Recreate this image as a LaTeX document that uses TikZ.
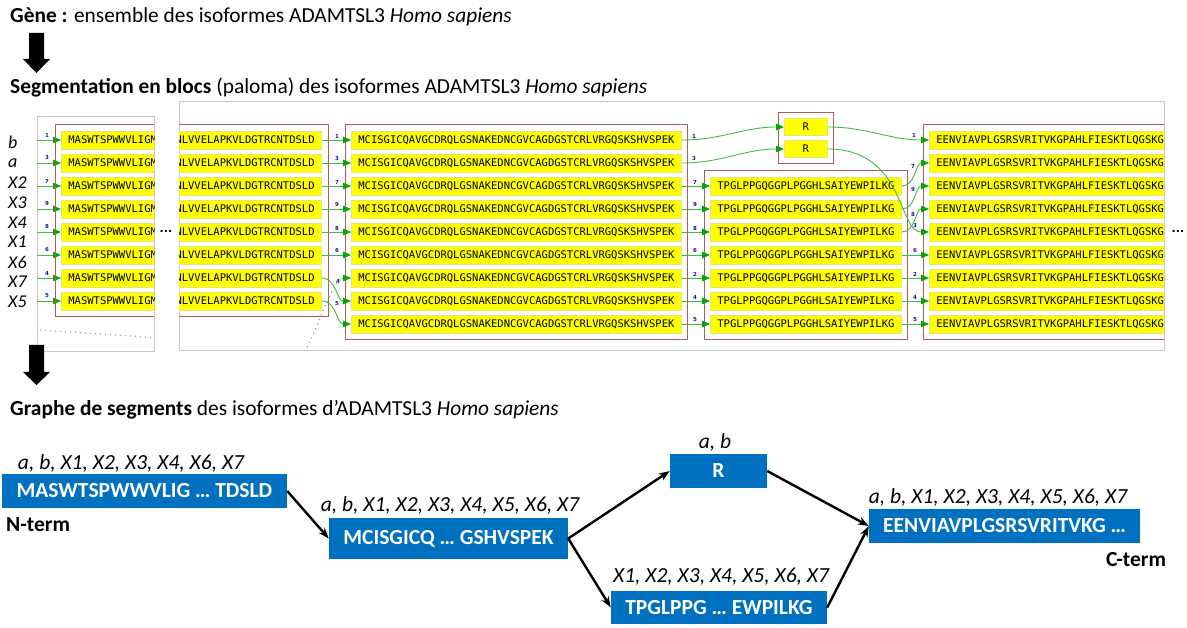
\documentclass[tikz,border=0pt]{standalone}
\usepackage{fontspec}
\setmainfont{Carlito}
\newfontfamily\seqfont{DejaVu Sans Mono}
\newfontfamily\numfont{DejaVu Sans}
\usetikzlibrary{arrows.meta,fit}
\definecolor{boxblue}{HTML}{0070C0}
\definecolor{clbrown}{HTML}{B05A5A}
\definecolor{edgegreen}{HTML}{44B844}
\definecolor{headgreen}{HTML}{00A800}
\definecolor{numblue}{HTML}{1A1A80}
\definecolor{panelgray}{HTML}{C8C8C8}
\definecolor{rowyellow}{HTML}{FFFF00}
\definecolor{rowborder}{HTML}{E4E47A}
\definecolor{dotgreen}{HTML}{66C866}
\begin{document}
\begin{tikzpicture}[x=1pt,y=-1pt,
 seqrow/.style={fill=rowyellow, draw=rowborder, line width=0.8pt, minimum height=18pt, inner xsep=7pt, inner ysep=0pt, text height=7.5pt, text depth=0pt, font=\seqfont\fontsize{10.5}{12}\selectfont},
 cluster/.style={draw=clbrown, line width=1pt, inner sep=6pt},
 panel/.style={draw=panelgray, line width=0.8pt, inner sep=0pt, anchor=north west},
 gedge/.style={draw=edgegreen, line width=0.9pt, -{Triangle[length=8pt,width=6.5pt,color=headgreen]}},
 dotedge/.style={draw=dotgreen, line width=1.2pt, dash pattern=on 1.2pt off 3.8pt},
 numlab/.style={font=\numfont\bfseries\fontsize{5.5}{6}\selectfont, text=numblue, inner sep=0pt},
 isolab/.style={font=\itshape\fontsize{18}{20}\selectfont, anchor=west, inner sep=0pt},
 segbox/.style={fill=boxblue, text=white, font=\bfseries\fontsize{21.5}{24}\selectfont, inner sep=0pt},
 setlab/.style={font=\itshape\fontsize{21.5}{24}\selectfont, inner sep=0pt},
 termlab/.style={font=\bfseries\fontsize{21.5}{24}\selectfont, inner sep=0pt, anchor=west},
 titletext/.style={anchor=west, inner sep=0pt, font=\fontsize{21.4}{24}\selectfont},
 blackedge/.style={line width=2.4pt, -{Stealth[length=11pt,width=8pt]}},
 dots/.style={font=\numfont\bfseries\fontsize{11}{11}\selectfont, inner sep=0pt},
]
\useasboundingbox (0,0) rectangle (1187,628);

% titles
\node[titletext] (title1) at (10,17) {\textbf{Gène :} ensemble des isoformes ADAMTSL3 \textit{Homo sapiens}};
\node[titletext] (title2) at (10,87) {\textbf{Segmentation en blocs} (paloma) des isoformes ADAMTSL3 \textit{Homo sapiens}};
\node[titletext] (title3) at (10,410) {\textbf{Graphe de segments} des isoformes d’ADAMTSL3 \textit{Homo sapiens}};

% isoform names
\foreach \i/\t/\yy in {1/b/142,2/a/163,3/X2/183,4/X3/203,5/X4/223,6/X1/242,7/X6/262,8/X7/282,9/X5/302}
  \node[isolab] (iso\i) at (8,\yy) {\t};

% panel 1
\node[panel, minimum width=117pt, minimum height=235pt] (panelA) at (37,116) {};
\begin{scope}
\clip (37,116) rectangle (154,351);
\foreach \i/\n in {1/1,2/3,3/7,4/9,5/8,6/6,7/4,8/5} {
  \pgfmathsetmacro{\yy}{117+23*\i}
  \node[seqrow, anchor=west] (p1r\i) at (61,\yy) {MASWTSPWWVLIGM};
  \coordinate (p1s\i) at (37,\yy);
  \draw[gedge] (p1s\i) -- (p1r\i.west);
  \node[numlab] (p1n\i) at (47,\yy-5) {\n};
}
\node[cluster, fit=(p1r1)(p1r8)] (p1c) {};
\coordinate (dA1) at (40,330);
\coordinate (dA2) at (160,338);
\draw[dotedge] (dA1) -- (dA2);
\end{scope}

% panel 2
\node[panel, minimum width=985pt, minimum height=249pt] (panelB) at (179,101) {};
\begin{scope}
\clip (179,101) rectangle (1164,350);
% block 1
\foreach \i in {1,...,8} {
  \pgfmathsetmacro{\yy}{117+23*\i}
  \node[seqrow, anchor=east] (b1r\i) at (322,\yy) {NLVVELAPKVLDGTRCNTDSLD};
}
\node[cluster, fit=(b1r1)(b1r8)] (b1c) {};
% block 2
\foreach \i in {1,...,9} {
  \pgfmathsetmacro{\yy}{117+23*\i}
  \node[seqrow, anchor=west] (b2r\i) at (351,\yy) {MCISGICQAVGCDRQLGSNAKEDNCGVCAGDGSTCRLVRGQSKSHVSPEK};
}
\node[cluster, fit=(b2r1)(b2r9)] (b2c) {};
% R block
\node[seqrow, anchor=west, minimum width=43pt, minimum height=17pt] (R1) at (784,127) {R};
\node[seqrow, anchor=west, minimum width=43pt, minimum height=17pt] (R2) at (784,149) {R};
\node[cluster, fit=(R1)(R2)] (Rc) {};
% TPG block
\foreach \i in {1,...,7} {
  \pgfmathsetmacro{\yy}{163+23*\i}
  \node[seqrow, anchor=west] (tr\i) at (710,\yy) {TPGLPPGQGGPLPGGHLSAIYEWPILKG};
}
\node[cluster, fit=(tr1)(tr7)] (tc) {};
% EEN block
\foreach \i in {1,...,9} {
  \pgfmathsetmacro{\yy}{117+23*\i}
  \node[seqrow, anchor=west] (er\i) at (929,\yy) {EENVIAVPLGSRSVRITVKGPAHLFIESKTLQGSKG};
}
\node[cluster, fit=(er1)(er9)] (ec) {};

% edges block1 -> block2
\foreach \i/\n in {1/1,2/3,3/7,4/9,5/8,6/6} {
  \pgfmathsetmacro{\yy}{117+23*\i}
  \draw[gedge] (b1r\i.east) -- (b2r\i.west);
  \node[numlab] (n12\i) at (337,\yy-4) {\n};
}
\draw[gedge] (b1r7.east) to[out=0,in=180] (b2r8.west);
\node[numlab] (n127) at (338,281) {4};
\draw[gedge] (b1r8.east) to[out=0,in=180] (b2r9.west);
\node[numlab] (n128) at (337,304) {5};
\coordinate (dB1) at (305,352);
\draw[dotedge] (dB1) .. controls (322,318) and (332,281) .. (343,278.5);
\draw[gedge] (342,278) -- (b2r7.west);

% block2 -> R
\draw[gedge] (b2r1.east) to[out=0,in=180] (R1.west);
\node[numlab] (n2R1) at (694,136) {1};
\draw[gedge] (b2r2.east) to[out=0,in=180] (R2.west);
\node[numlab] (n2R2) at (694,159) {3};

% block2 -> TPG
\foreach \i/\n in {1/7,2/9,3/8,4/6,5/2,6/4,7/5} {
  \pgfmathsetmacro{\yy}{163+23*\i}
  \pgfmathtruncatemacro{\j}{\i+2}
  \draw[gedge] (b2r\j.east) -- (tr\i.west);
  \node[numlab] (n2t\i) at (695,\yy-4) {\n};
}

% R -> EEN
\draw[gedge] (R1.east) to[out=0,in=180] (er1.west);
\node[numlab] (nRe1) at (914,135) {1};
\draw[gedge] (R2.east) .. controls (905,149) and (898,232) .. (er5.west);
\node[numlab] (nRe2) at (915,226) {3};

% TPG -> EEN
\draw[gedge] (tr1.east) to[out=0,in=180] (er2.west);
\node[numlab] (nte1) at (913,166) {7};
\draw[gedge] (tr2.east) to[out=0,in=180] (er3.west);
\node[numlab] (nte2) at (913,190) {9};
\draw[gedge] (tr3.east) to[out=0,in=180] (er4.west);
\node[numlab] (nte3) at (913,214) {8};
\foreach \i/\n in {4/6,5/2,6/4,7/5} {
  \pgfmathsetmacro{\yy}{163+23*\i}
  \pgfmathtruncatemacro{\j}{\i+2}
  \draw[gedge] (tr\i.east) -- (er\j.west);
  \node[numlab] (nte\i) at (915,\yy-4) {\n};
}
\end{scope}

\node[dots] (gapdots) at (166,231) {...};
\node[dots] (enddots) at (1178,231) {...};

% big arrows
\fill (29,33) -- (44,33) -- (44,59) -- (50,59) -- (36.5,73) -- (23,59) -- (29,59) -- cycle;
\fill (29,345) -- (44,345) -- (44,372) -- (50,372) -- (36.5,385) -- (23,372) -- (29,372) -- cycle;

% segment graph
\node[segbox, minimum width=285pt, minimum height=34pt] (A) at (144.5,491) {MASWTSPWWVLIG … TDSLD};
\node[segbox, minimum width=239pt, minimum height=41pt] (B) at (448.5,538.5) {MCISGICQ … GSHVSPEK};
\node[segbox, minimum width=97pt, minimum height=34pt] (R) at (718.5,471) {R};
\node[segbox, minimum width=216pt, minimum height=33pt] (T) at (719,607.5) {TPGLPPG … EWPILKG};
\node[segbox, minimum width=271pt, minimum height=34pt] (E) at (1004.5,526) {EENVIAVPLGSRSVRITVKG …};

\node[setlab] (Al) at (131,463) {a, b, X1, X2, X3, X4, X6, X7};
\node[setlab] (Bl) at (450,505) {a, b, X1, X2, X3, X4, X5, X6, X7};
\node[setlab] (Rl) at (715,442) {a, b};
\node[setlab] (Tl) at (721,577) {X1, X2, X3, X4, X5, X6, X7};
\node[setlab] (El) at (998,497) {a, b, X1, X2, X3, X4, X5, X6, X7};
\node[termlab] (Nt) at (6,525) {N-term};
\node[termlab] (Ct) at (1106,560) {C-term};

\draw[blackedge] (A.east) -- (B.west);
\draw[blackedge] (B.east) -- (R.west);
\draw[blackedge] (B.east) -- (T.west);
\draw[blackedge] (R.east) -- (E.west);
\draw[blackedge] (T.east) -- (E.west);
\end{tikzpicture}
\end{document}
